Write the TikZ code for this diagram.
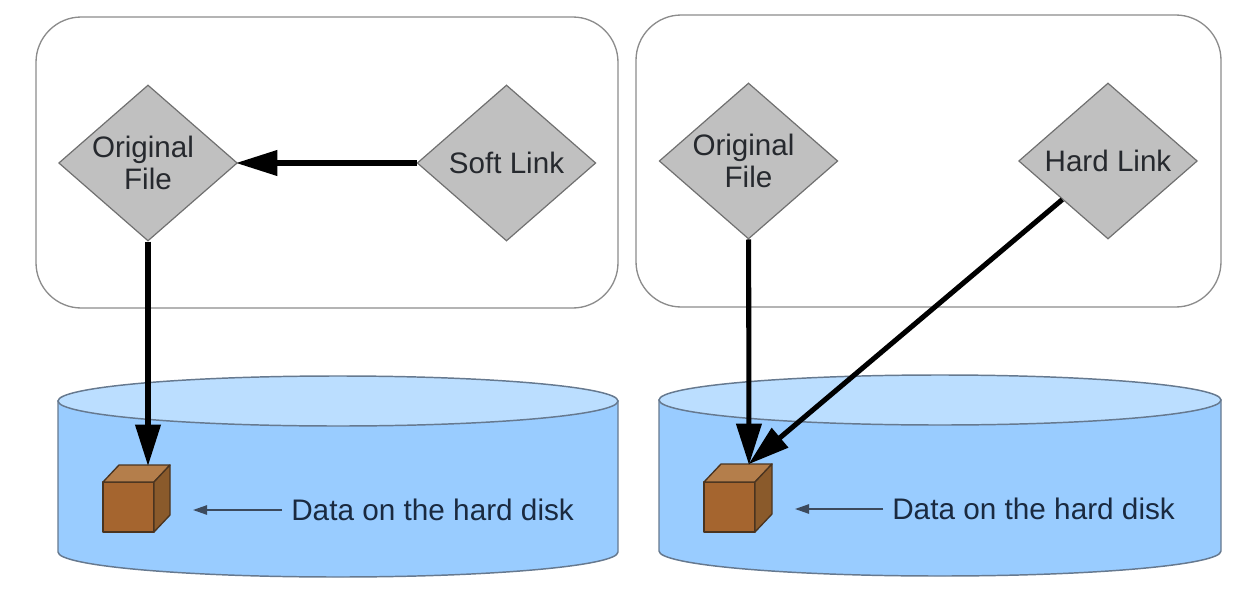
\documentclass[tikz,border=0pt]{standalone}
\usepackage{fontspec}
\setmainfont{Liberation Sans}
\usetikzlibrary{shapes.geometric,arrows.meta}
\definecolor{inktext}{HTML}{26292E}
\definecolor{disktext}{HTML}{1A2A40}
\definecolor{framegray}{HTML}{8C8C8C}
\definecolor{diamondfill}{HTML}{C0C0C0}
\definecolor{diamondline}{HTML}{707070}
\definecolor{diskbody}{HTML}{99CCFF}
\definecolor{disktop}{HTML}{BBDEFF}
\definecolor{diskline}{HTML}{66798F}
\definecolor{cubefront}{HTML}{A5652F}
\definecolor{cubetop}{HTML}{B47E4B}
\definecolor{cubeside}{HTML}{8A5A2B}
\definecolor{cubeline}{HTML}{4A3420}
\tikzset{
  px/.style={x=0.75pt,y=-0.75pt},
  frame/.style={draw=framegray,line width=1pt,rounded corners=34pt},
  filediamond/.style={diamond,draw=diamondline,fill=diamondfill,line width=0.9pt,
    inner sep=0pt,minimum width=134pt,minimum height=117pt,align=center,
    text=inktext,font=\fontsize{22.2}{24.5}\selectfont},
  thickarrow/.style={draw=black,line width=3.8pt,
    -{Triangle[length=31pt,width=18.5pt]},shorten >=-1.5pt},
  caption/.style={text=disktext,font=\fontsize{22.3}{24}\selectfont,inner sep=6.75pt,anchor=west},
  thinarrow/.style={draw=disktext!85,line width=1.1pt,-{Triangle[length=10.5pt,width=7pt]}},
  diskedge/.style={draw=diskline,line width=1.1pt},
  cubeedge/.style={draw=cubeline,line width=1pt,line join=round}
}
% First line of a file label, set slightly left of the line below it
\newcommand{\offsetline}[1]{\makebox[0pt][c]{#1\hspace*{7.5pt}}}
% Draws a cylinder: left x, right x, top ellipse centre y, bottom ellipse centre y
\newcommand{\diskdrum}[4]{%
  \pgfmathsetmacro{\rxx}{(#2-#1)/2}
  \pgfmathsetmacro{\cxx}{(#1+#2)/2}
  \path[diskedge,fill=diskbody] (#1,#3) -- (#1,#4)
    arc[start angle=180,end angle=360,x radius=\rxx,y radius=-25] -- (#2,#3) -- cycle;
  \path[diskedge,fill=disktop] (\cxx,#3) ellipse[x radius=\rxx,y radius=25];
}
% Draws the data cube: front-left x, front-right x, back-right x, back top y, front top y, bottom y
\newcommand{\datacube}[6]{%
  \pgfmathsetmacro{\dxx}{#3-#2}
  \path[cubeedge,fill=cubefront] (#1,#5) rectangle (#2,#6);
  \path[cubeedge,fill=cubetop] (#1,#5) -- ({#1+\dxx},#4) -- (#3,#4) -- (#2,#5) -- cycle;
  \path[cubeedge,fill=cubeside] (#2,#5) -- (#3,#4) -- (#3,{#6-(#5-#4)}) -- (#2,#6) -- cycle;
}
\begin{document}
\begin{tikzpicture}[px]
\useasboundingbox (0,0) rectangle (1250,603);

% Directory frames
\draw[frame] (36,17) rectangle (618,308);
\draw[frame] (636,15) rectangle (1221,307);

% Hard disks
\diskdrum{58}{618}{401}{552}
\diskdrum{659}{1221}{400}{551}

% Data blocks
\datacube{103}{154}{170}{465}{482}{532}
\datacube{704}{755}{772}{464}{482}{532}

% Anchor points of the connectors
\coordinate (blockA) at (148,464);
\coordinate (blockB) at (749,463);
\coordinate (blockBdiag) at (750,463);
\coordinate (blockAside) at (193,510);
\coordinate (blockBside) at (795,509);

% Left panel
\node[filediamond] (origA) at (148,163) {\offsetline{Original}\\File};
\node[filediamond] (soft) at (506.5,163) {Soft Link};
\draw[thickarrow] (soft) -- (origA);
\draw[thickarrow] (origA) -- (blockA);
\node[caption] (dataA) at (282,510) {Data on the hard disk};
\draw[thinarrow] (dataA) -- (blockAside);

% Right panel
\node[filediamond] (origB) at (748.5,161) {\offsetline{Original}\\File};
\node[filediamond] (hard) at (1108,161) {Hard Link};
\draw[thickarrow] (origB) -- (blockB);
\draw[thickarrow] (hard) -- (blockBdiag);
\node[caption] (dataB) at (883,509) {Data on the hard disk};
\draw[thinarrow] (dataB) -- (blockBside);
\end{tikzpicture}
\end{document}
